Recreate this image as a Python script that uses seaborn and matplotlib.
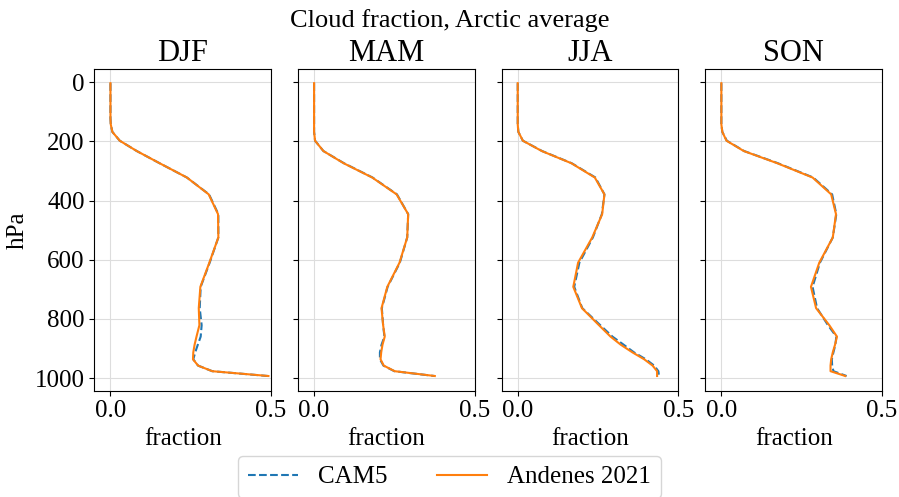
import numpy as np
import pandas as pd
import matplotlib
matplotlib.use("Agg")
import matplotlib.pyplot as plt
import seaborn as sns

seasons = ["DJF", "MAM", "JJA", "SON"]

lev = [3.6, 7.6, 14.4, 24.6, 38.3, 54.6, 72.0, 87.8, 103.3, 121.5, 142.9,
       168.2, 197.9, 232.8, 273.9, 322.2, 379.1, 445.9, 524.7, 609.8, 691.4,
       763.4, 820.9, 859.5, 887.0, 912.6, 936.2, 957.5, 976.3, 992.6]

obs_djf = [0, 0, 0, 0, 0, 0, 0, 0, 0, 0, 0.001, 0.006, 0.029, 0.082, 0.153,
           0.238, 0.306, 0.335, 0.336, 0.308, 0.280, 0.275, 0.277, 0.268,
           0.262, 0.258, 0.257, 0.273, 0.317, 0.492]
cam_djf = [0, 0, 0, 0, 0, 0, 0, 0, 0, 0, 0.001, 0.006, 0.029, 0.082, 0.153,
           0.238, 0.307, 0.336, 0.336, 0.309, 0.281, 0.278, 0.284, 0.281,
           0.272, 0.264, 0.258, 0.273, 0.317, 0.490]

obs_mam = [0, 0, 0, 0, 0, 0, 0, 0, 0, 0, 0, 0, 0.003, 0.029, 0.092,
           0.181, 0.257, 0.293, 0.290, 0.266, 0.228, 0.210, 0.215, 0.220,
           0.213, 0.209, 0.207, 0.217, 0.251, 0.376]
cam_mam = [0, 0, 0, 0, 0, 0, 0, 0, 0, 0, 0, 0, 0.003, 0.029, 0.093,
           0.182, 0.258, 0.293, 0.290, 0.267, 0.229, 0.211, 0.215, 0.219,
           0.210, 0.205, 0.205, 0.216, 0.250, 0.375]

obs_jja = [0, 0, 0, 0, 0, 0, 0, 0, 0, 0, 0, 0.002, 0.016, 0.075, 0.167,
           0.240, 0.270, 0.263, 0.232, 0.188, 0.173, 0.200, 0.253, 0.289,
           0.321, 0.357, 0.394, 0.420, 0.434, 0.434]
cam_jja = [0, 0, 0, 0, 0, 0, 0, 0, 0, 0, 0, 0.002, 0.016, 0.076, 0.168,
           0.242, 0.270, 0.262, 0.234, 0.192, 0.176, 0.201, 0.257, 0.295,
           0.330, 0.362, 0.399, 0.425, 0.438, 0.440]

obs_son = [0, 0, 0, 0, 0, 0, 0, 0, 0, 0, 0, 0.003, 0.016, 0.070, 0.174,
           0.284, 0.342, 0.357, 0.347, 0.305, 0.279, 0.295, 0.336, 0.360,
           0.354, 0.347, 0.342, 0.340, 0.340, 0.386]
cam_son = [0, 0, 0, 0, 0, 0, 0, 0, 0, 0, 0, 0.003, 0.017, 0.071, 0.176,
           0.286, 0.345, 0.358, 0.347, 0.307, 0.284, 0.298, 0.332, 0.358,
           0.355, 0.349, 0.344, 0.345, 0.349, 0.390]

obs = [obs_djf, obs_mam, obs_jja, obs_son]
cam = [cam_djf, cam_mam, cam_jja, cam_son]

plt.rcParams["font.family"] = ["Liberation Serif", "DejaVu Serif"]
plt.rcParams["font.size"] = 18

fig, axes = plt.subplots(1, 4, sharey=True, figsize=(8.99, 4.97), dpi=100)
fig.subplots_adjust(left=0.105, right=0.981, top=0.861, bottom=0.214, wspace=0.153)

for ax, s, o, c in zip(axes, seasons, obs, cam):
    df = pd.DataFrame({"lev": lev, "cam": c, "obs": o})
    sns.lineplot(data=df, x="cam", y="lev", orient="y", ax=ax, color="#1f77b4",
                 linestyle="--", linewidth=1.5, label="CAM5", legend=False)
    sns.lineplot(data=df, x="obs", y="lev", orient="y", ax=ax, color="#ff7f0e",
                 linestyle="-", linewidth=1.5, label="Andenes 2021", legend=False)
    ax.set_title(s, fontsize=22)
    ax.set_xlim(-0.05, 0.5)
    ax.set_xticks([0.0, 0.5])
    ax.set_xticklabels(["0.0", "0.5"])
    ax.set_xlabel("fraction", fontsize=18)
    ax.set_ylabel("")
    ax.grid(True, color="#dddddd", linewidth=0.8)
    ax.set_axisbelow(True)
    ax.tick_params(labelsize=18)

axes[0].set_ylim(1042, -44)
axes[0].set_yticks([0, 200, 400, 600, 800, 1000])
axes[0].set_ylabel("hPa", fontsize=18)

fig.suptitle("Cloud fraction, Arctic average", fontsize=19, y=0.982)

handles, labels = axes[0].get_legend_handles_labels()
fig.legend(handles, labels, loc="upper center", bbox_to_anchor=(0.5, 0.108),
           ncol=2, fontsize=18)

fig.savefig("out.png", dpi=100)
